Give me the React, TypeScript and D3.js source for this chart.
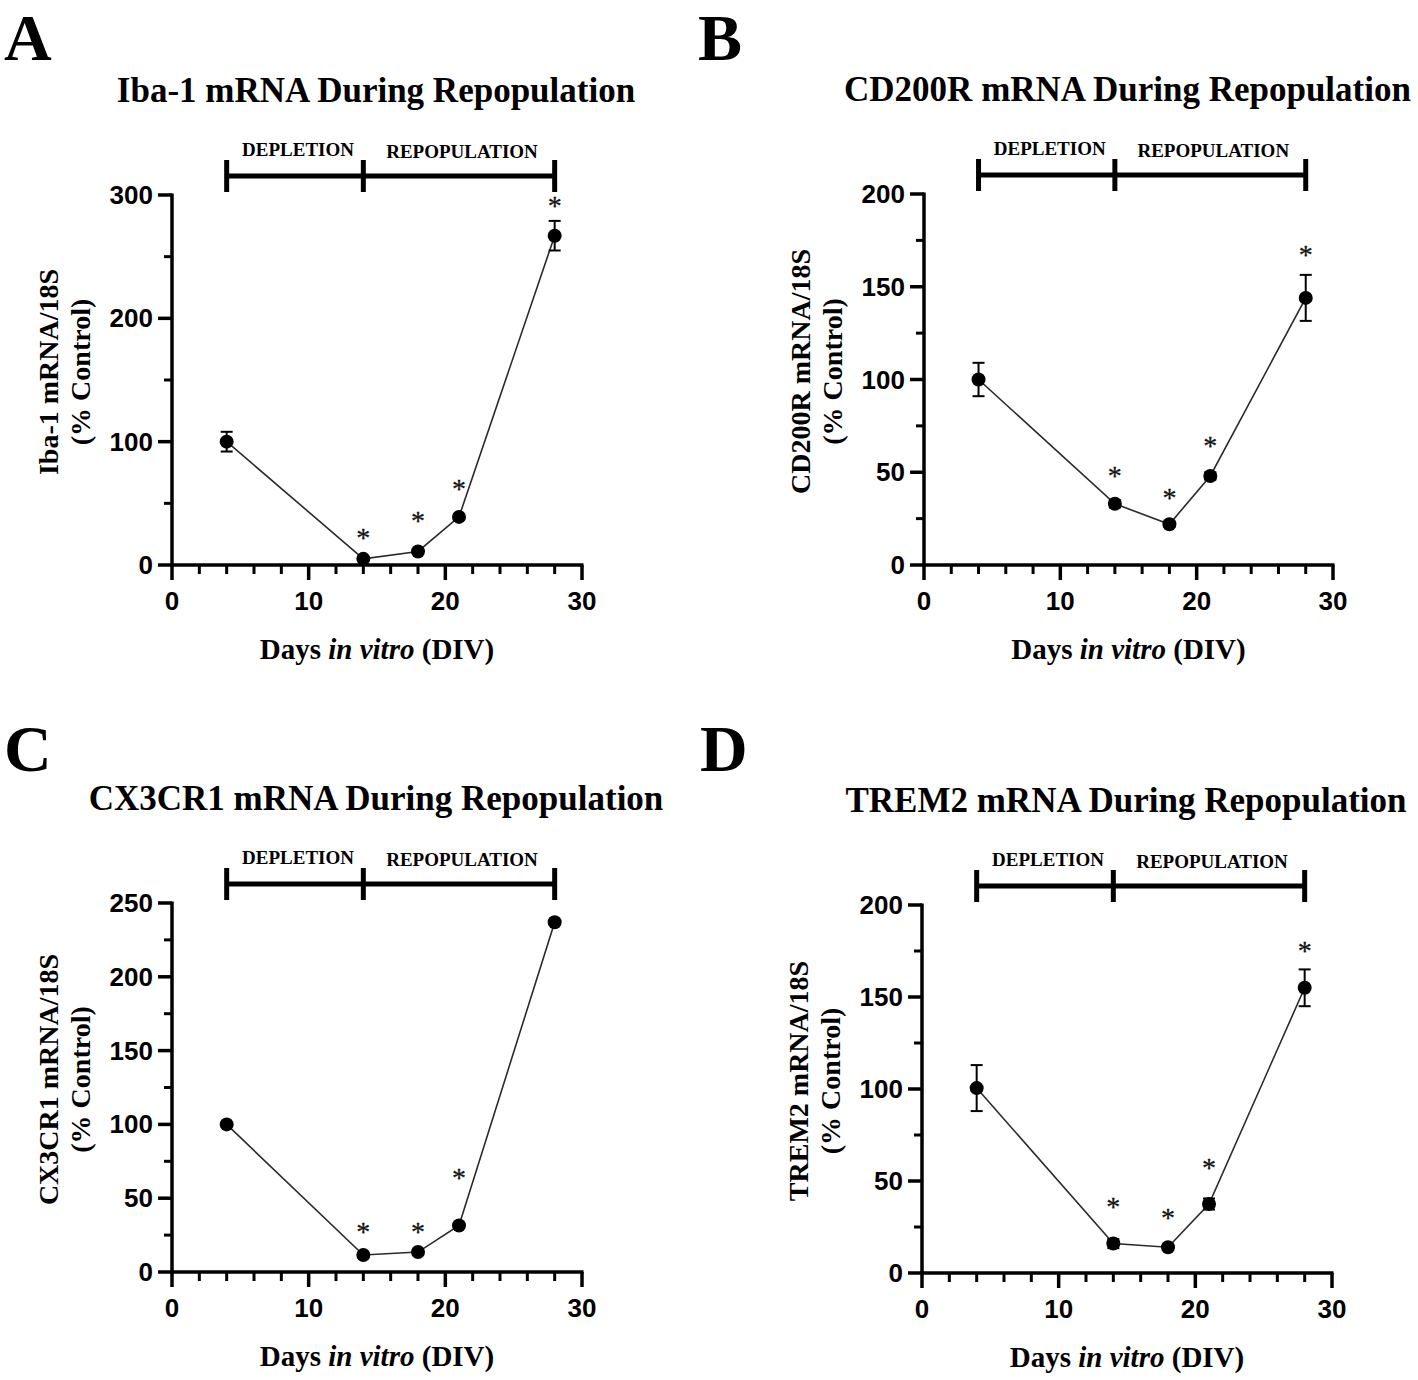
import React from 'react';
import * as d3 from 'd3';

// Days sampled (DIV)
const days = [4, 14, 18, 21, 28];

// Panel A: Iba-1
const ibaMean = [100, 5, 11, 39, 267];
const ibaErr = [8, 1.5, 2, 2, 12];
const ibaStar = [null, 25, 39, 65, 294];

// Panel B: CD200R
const cd200Mean = [100, 33, 22, 48, 144];
const cd200Err = [9, 2, 1.5, 2, 12.4];
const cd200Star = [null, 50, 38, 66, 169];

// Panel C: CX3CR1
const cx3Mean = [100, 11.5, 13.5, 31.5, 237];
const cx3Err = [0.8, 0.8, 0.8, 0.8, 0.8];
const cx3Star = [null, 30, 30, 66, null];

// Panel D: TREM2
const tremMean = [100.5, 16, 14, 37.5, 155];
const tremErr = [12.5, 2.5, 1.5, 3, 10];
const tremStar = [null, 38, 32, 59, 177];

const xMajor = [0, 10, 20, 30];
const phaseDays = [4, 14, 28];
const phaseLabels = ['DEPLETION', 'REPOPULATION'];

const SERIF = '"Liberation Serif", "Times New Roman", serif';
const SANS = '"Liberation Sans", Arial, sans-serif';

type PanelProps = {
  letter: string;
  title: string;
  yLabel: string;
  mean: number[];
  err: number[];
  stars: (number | null)[];
  yMax: number;
  yMajorStep: number;
  left: number; right: number; top: number; bottom: number;
  letterX: number; letterY: number;
};

function Panel(p: PanelProps) {
  const x = d3.scaleLinear().domain([0, 30]).range([p.left, p.right]);
  const y = d3.scaleLinear().domain([0, p.yMax]).range([p.bottom, p.top]);
  const yMajor = d3.range(0, p.yMax + 0.001, p.yMajorStep);
  const yMinor = d3.range(p.yMajorStep / 2, p.yMax, p.yMajorStep);
  const xMinor = d3.range(2, 30, 2).filter(v => v % 10 !== 0);
  const pts = days.map((d, i) => [d, p.mean[i]] as [number, number]);
  const line = d3.line<[number, number]>().x(d => x(d[0])).y(d => y(d[1]));
  const midX = (p.left + p.right) / 2;
  const barY = p.top - 19;
  const starSize = 28;

  return (
    <g>
      <text x={p.letterX} y={p.letterY} fontFamily={SERIF} fontWeight="bold" fontSize={66}>{p.letter}</text>
      <text x={midX - 1} y={p.top - 93} textAnchor="middle" fontFamily={SERIF} fontWeight="bold" fontSize={35}>{p.title}</text>

      {/* phase bar */}
      <line x1={x(phaseDays[0])} x2={x(phaseDays[2])} y1={barY} y2={barY} stroke="#000" strokeWidth={5} />
      {phaseDays.map(d => (
        <line key={d} x1={x(d)} x2={x(d)} y1={barY - 16} y2={barY + 16} stroke="#000" strokeWidth={5} />
      ))}
      {phaseLabels.map((lab, i) => (
        <text key={lab} x={(x(phaseDays[i]) + x(phaseDays[i + 1])) / 2 + 3} y={barY - 20 + i * 2}
          textAnchor="middle" fontFamily={SERIF} fontWeight="bold" fontSize={19}>{lab}</text>
      ))}

      {/* y axis */}
      <line x1={p.left} x2={p.left} y1={p.top - 1.5} y2={p.bottom + 1.5} stroke="#000" strokeWidth={3.5} />
      {yMajor.map(v => (
        <g key={'ym' + v}>
          <line x1={p.left - 14} x2={p.left} y1={y(v)} y2={y(v)} stroke="#000" strokeWidth={3.5} />
          <text x={p.left - 19} y={y(v) + 9} textAnchor="end" fontFamily={SANS} fontWeight="bold" fontSize={26}>{v}</text>
        </g>
      ))}
      {yMinor.map(v => (
        <line key={'yn' + v} x1={p.left - 8} x2={p.left} y1={y(v)} y2={y(v)} stroke="#000" strokeWidth={3} />
      ))}

      {/* x axis */}
      <line x1={p.left - 1.5} x2={p.right + 1.5} y1={p.bottom} y2={p.bottom} stroke="#000" strokeWidth={3.5} />
      {xMajor.map(v => (
        <g key={'xm' + v}>
          <line x1={x(v)} x2={x(v)} y1={p.bottom} y2={p.bottom + 15} stroke="#000" strokeWidth={3.5} />
          <text x={x(v)} y={p.bottom + 45} textAnchor="middle" fontFamily={SANS} fontWeight="bold" fontSize={26}>{v}</text>
        </g>
      ))}
      {xMinor.map(v => (
        <line key={'xn' + v} x1={x(v)} x2={x(v)} y1={p.bottom} y2={p.bottom + 9} stroke="#000" strokeWidth={3} />
      ))}

      {/* axis titles */}
      <text transform={`translate(${p.left - 114},${(p.top + p.bottom) / 2 - 8}) rotate(-90)`} textAnchor="middle"
        fontFamily={SERIF} fontWeight="bold" fontSize={28}>{p.yLabel}</text>
      <text transform={`translate(${p.left - 82},${(p.top + p.bottom) / 2 - 8}) rotate(-90)`} textAnchor="middle"
        fontFamily={SERIF} fontWeight="bold" fontSize={28}>(% Control)</text>
      <text x={midX} y={p.bottom + 94} textAnchor="middle" fontFamily={SERIF} fontWeight="bold" fontSize={29}>
        Days <tspan fontStyle="italic">in vitro</tspan> (DIV)
      </text>

      {/* data */}
      <path d={line(pts) || ''} fill="none" stroke="#2a2a2a" strokeWidth={1.6} />
      {days.map((d, i) => (
        <g key={'e' + d}>
          <line x1={x(d)} x2={x(d)} y1={y(p.mean[i] - p.err[i])} y2={y(p.mean[i] + p.err[i])} stroke="#000" strokeWidth={2} />
          <line x1={x(d) - 6} x2={x(d) + 6} y1={y(p.mean[i] + p.err[i])} y2={y(p.mean[i] + p.err[i])} stroke="#000" strokeWidth={2} />
          <line x1={x(d) - 6} x2={x(d) + 6} y1={y(p.mean[i] - p.err[i])} y2={y(p.mean[i] - p.err[i])} stroke="#000" strokeWidth={2} />
          <circle cx={x(d)} cy={y(p.mean[i])} r={7} fill="#000" />
        </g>
      ))}
      {days.map((d, i) => p.stars[i] == null ? null : (
        <text key={'s' + d} x={x(d)} y={y(p.stars[i] as number) + starSize * 0.46} textAnchor="middle"
          fontFamily={SERIF} fontSize={starSize} fill="#111" stroke="#111" strokeWidth={0.3}>*</text>
      ))}
    </g>
  );
}

export default function App() {
  return (
    <svg width={1418} height={1380} style={{ position: 'absolute', left: 0, top: 0, background: '#fff' }}>
      <rect width={1418} height={1380} fill="#fff" />
      <Panel letter="A" title="Iba-1 mRNA During Repopulation" yLabel="Iba-1 mRNA/18S"
        mean={ibaMean} err={ibaErr} stars={ibaStar} yMax={300} yMajorStep={100}
        left={172} right={582} top={195} bottom={565} letterX={4} letterY={60} />
      <Panel letter="B" title="CD200R mRNA During Repopulation" yLabel="CD200R mRNA/18S"
        mean={cd200Mean} err={cd200Err} stars={cd200Star} yMax={200} yMajorStep={50}
        left={924} right={1333} top={194} bottom={565} letterX={698} letterY={60} />
      <Panel letter="C" title="CX3CR1 mRNA During Repopulation" yLabel="CX3CR1 mRNA/18S"
        mean={cx3Mean} err={cx3Err} stars={cx3Star} yMax={250} yMajorStep={50}
        left={172} right={582} top={903} bottom={1272} letterX={4} letterY={771} />
      <Panel letter="D" title="TREM2 mRNA During Repopulation" yLabel="TREM2 mRNA/18S"
        mean={tremMean} err={tremErr} stars={tremStar} yMax={200} yMajorStep={50}
        left={922} right={1332} top={905} bottom={1273} letterX={700} letterY={771} />
    </svg>
  );
}
